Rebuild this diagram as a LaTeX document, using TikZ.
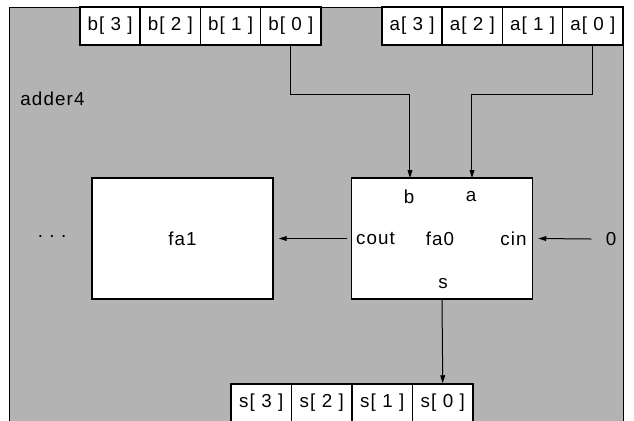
\documentclass[tikz,border=0pt]{standalone}
\usepackage{fontspec}
\setmainfont{Liberation Sans}[LetterSpace=6]
\usetikzlibrary{arrows.meta}
\begin{document}
\begin{tikzpicture}[x=0.5pt,y=-0.5pt,
  every node/.style={font=\fontsize{9.4}{11}\selectfont, inner sep=0pt},
  cell/.style={draw=black, line width=0.75pt, fill=white,
    minimum width=30.125pt, minimum height=19pt},
  scell/.style={cell, minimum width=30.25pt},
  unit/.style={draw=black, line width=0.75pt, fill=white,
    minimum width=90.5pt, minimum height=60.5pt},
  wire/.style={line width=0.5pt, draw=black},
  arr/.style={wire, -{Triangle[length=4pt,width=2.4pt]}}]
\useasboundingbox (0,0) rectangle (634,420);
% module body
\fill[white] (0,0) rectangle (634,420);
\draw[fill={rgb,255:red,179;green,179;blue,179}, line width=0.5pt] (10,7) rectangle (624,430);
\node[anchor=base west] (title) at (20,105) {adder4};
% input bus b
\node[cell] (b3) at (110.125,26) {b[ 3 ]};
\node[cell] (b2) at (170.375,26) {b[ 2 ]};
\node[cell] (b1) at (230.625,26) {b[ 1 ]};
\node[cell] (b0) at (290.875,26) {b[ 0 ]};
% input bus a
\node[cell] (a3) at (412.125,26) {a[ 3 ]};
\node[cell] (a2) at (472.375,26) {a[ 2 ]};
\node[cell] (a1) at (532.625,26) {a[ 1 ]};
\node[cell] (a0) at (592.875,26) {a[ 0 ]};
% output bus s
\node[scell] (s3) at (261.25,403) {s[ 3 ]};
\node[scell] (s2) at (321.75,403) {s[ 2 ]};
\node[scell] (s1) at (382.25,403) {s[ 1 ]};
\node[scell] (s0) at (442.75,403) {s[ 0 ]};
% full adders
\node[unit] (fa1) at (182.5,238.5) {fa1};
\node[unit] (fa0) at (442,238.5) {};
\node (fa0name) at (440,239) {fa0};
\node (pb) at (409,197) {b};
\node (pa) at (471,197) {a};
\node (pcout) at (375.5,239) {cout};
\node (pcin) at (513.5,239) {cin};
\node (ps) at (443,284) {s};
\node (dots) at (52,236) {.\hspace{3.2pt}.\hspace{3.2pt}.};
\node (zero) at (611,239) {0};
% wiring
\coordinate (bbend) at (410,94);
\coordinate (bport) at (410,178);
\coordinate (abend) at (472,94);
\coordinate (aport) at (472,178);
\draw[arr] (b0.south) |- (bbend) -- (bport);
\draw[arr] (a0.south) |- (abend) -- (aport);
\draw[arr] ([xshift=-2pt]fa0.west) -- ([xshift=2.5pt]fa1.east);
\draw[arr] ([xshift=-7pt]zero.west) -- ([xshift=2.5pt]fa0.east);
\draw[arr] (fa0.south) -- (s0.north);
\end{tikzpicture}
\end{document}
